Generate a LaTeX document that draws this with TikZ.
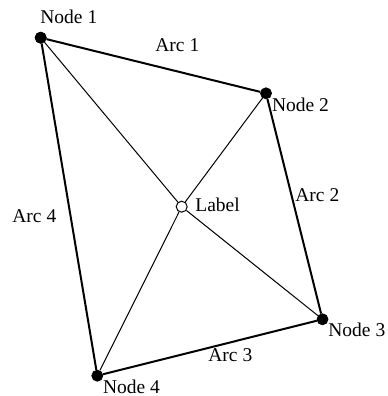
\documentclass[tikz,border=0pt]{standalone}
\usepackage{fontspec}
\setmainfont{Liberation Serif}
\begin{document}
\begin{tikzpicture}[x=0.5pt,y=-0.5pt,
  dot/.style={circle,fill=black,draw=black,inner sep=0pt,minimum size=5.5pt},
  odot/.style={circle,fill=white,draw=black,line width=0.5pt,inner sep=0pt,minimum size=5.5pt},
  lbl/.style={anchor=base west,inner sep=0pt,font=\fontsize{9.75}{11}\selectfont},
  arc/.style={line width=1pt},
  spoke/.style={line width=0.5pt}]
\useasboundingbox (0,0) rectangle (387,396);
\node[dot] (n1) at (40.7,37.7) {};
\node[dot] (n2) at (266,93.3) {};
\node[dot] (n3) at (322.5,319.3) {};
\node[dot] (n4) at (97.3,375.7) {};
\node[odot] (c) at (181.7,206.7) {};
\draw[spoke] (n1) -- (c) (n2) -- (c) (n3) -- (c) (n4) -- (c);
\draw[arc] (n1) -- (n2) -- (n3) -- (n4) -- (n1);
\node[dot] at (n1) {};
\node[lbl] (t1) at (40,24) {Node 1};
\node[lbl] (t2) at (271.7,111.7) {Node 2};
\node[lbl] (t3) at (328,336.7) {Node 3};
\node[lbl] (t4) at (102.7,393) {Node 4};
\node[lbl] (tc) at (195,211.7) {Label};
\node[lbl] (a1) at (155,51.7) {Arc 1};
\node[lbl] (a2) at (295,201) {Arc 2};
\node[lbl] (a3) at (208,361.7) {Arc 3};
\node[lbl] (a4) at (12,222) {Arc 4};
\end{tikzpicture}
\end{document}
